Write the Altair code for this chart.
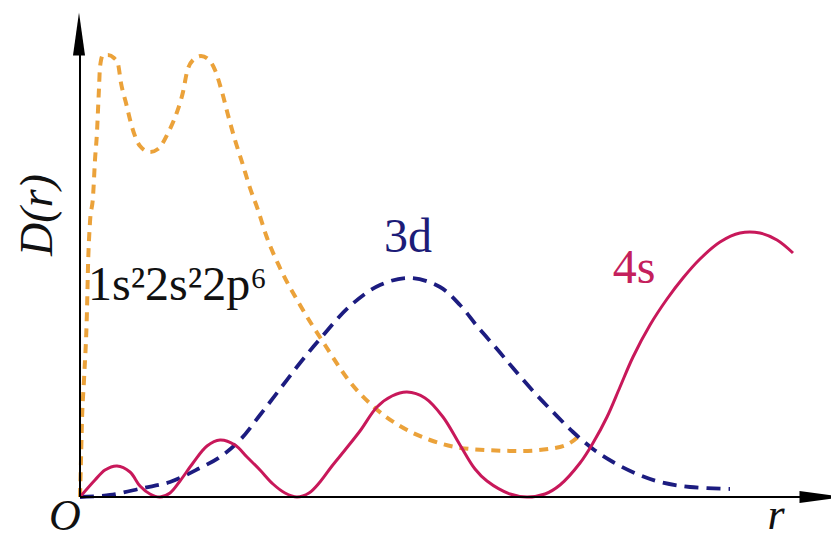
import altair as alt
import pandas as pd

# radial distribution D(r); r and D in arbitrary units
core_r = [0, 1, 2, 4, 7, 8, 10, 13, 15, 17, 18, 19, 20, 23, 28, 34, 38, 41, 46, 52, 60, 70, 78,
          88, 97, 103, 107, 113, 121, 129, 135, 142, 148, 155, 162, 170, 178, 186, 200, 220, 245,
          270, 295, 320, 350, 390, 440, 475, 490, 500]
core_d = [0, 37, 77, 117, 187, 230, 275, 300, 337, 365, 387, 409, 430, 442, 442, 439, 433, 414,
          394, 370, 351, 345, 348, 364, 385, 405, 425, 437, 441, 437, 427, 405, 382, 357, 335,
          309, 287, 262, 229, 192, 152, 115, 89, 71, 57, 48, 46, 49, 54, 62]

d3_r = [0, 30, 63, 90, 120, 140, 160, 180, 200, 220, 240, 270, 300, 330, 360, 380, 397, 417,
        433, 453, 473, 493, 513, 533, 557, 580, 610, 650]
d3_d = [0, 2, 9, 15, 29, 40, 57, 82, 108, 134, 158, 191, 212, 219, 210, 192, 171, 148, 129,
        106, 85, 65, 48, 35, 23, 15, 10, 8]

s4_r = [0, 15, 25, 37, 50, 60, 70, 80, 90, 100, 113, 127, 140, 155, 167, 180, 193, 205, 217,
        229, 240, 252, 265, 280, 297, 312, 327, 345, 363, 380, 395, 407, 430, 447, 465, 480,
        500, 513, 527, 540, 553, 570, 587, 603, 620, 640, 660, 680, 697, 713]
s4_d = [0, 17, 27, 31, 25, 11, 3, 0, 4, 16, 34, 51, 57, 52, 40, 27, 13, 4, 0, 4, 15, 31, 47,
        66, 90, 101, 105, 99, 80, 52, 28, 16, 3, 0, 3, 12, 34, 54, 80, 110, 140, 172, 198, 219,
        238, 255, 264, 264, 257, 244]

axis_r = [0, 0]
axis_d = [0, 0]
axis_r2 = [725, 0]
axis_d2 = [0, 450]

labels = ["1s²2s²2p⁶", "3d", "4s"]
label_r = [8, 328, 554]
label_d = [197, 245, 214]
label_color = ["#111111", "#1c1c78", "#c4205c"]

X_DOM = [0, 750]
Y_DOM = [0, 475]
SERIF = "Liberation Serif"


def xs(field="r"):
    return alt.X(f"{field}:Q", scale=alt.Scale(domain=X_DOM, nice=False, zero=False), axis=None)


def ys(field="D"):
    return alt.Y(f"{field}:Q", scale=alt.Scale(domain=Y_DOM, nice=False, zero=False), axis=None)


core = pd.DataFrame({"r": core_r, "D": core_d})
d3 = pd.DataFrame({"r": d3_r, "D": d3_d})
s4 = pd.DataFrame({"r": s4_r, "D": s4_d})
axes_df = pd.DataFrame({"r": axis_r, "D": axis_d, "r2": axis_r2, "D2": axis_d2})

core_line = alt.Chart(core).mark_line(
    color="#eba23a", strokeWidth=4, strokeDash=[9, 7], interpolate="monotone"
).encode(x=xs(), y=ys())

d3_line = alt.Chart(d3).mark_line(
    color="#1c1c80", strokeWidth=3.8, strokeDash=[14, 8], interpolate="catmull-rom"
).encode(x=xs(), y=ys())

s4_line = alt.Chart(s4).mark_line(
    color="#c8185a", strokeWidth=3, interpolate="catmull-rom"
).encode(x=xs(), y=ys())

axis_lines = alt.Chart(axes_df).mark_rule(color="black", strokeWidth=2).encode(
    x=xs(), y=ys(), x2="r2:Q", y2="D2:Q"
)

up_arrow = alt.Chart(pd.DataFrame({"r": [-1], "D": [463]})).mark_point(
    shape="M0,-1L0.28,1L-0.28,1Z", filled=True, color="black", opacity=1, size=1849
).encode(x=xs(), y=ys())

right_arrow = alt.Chart(pd.DataFrame({"r": [742], "D": [0]})).mark_point(
    shape="M1,0L-1,0.27L-1,-0.27Z", filled=True, color="black", opacity=1, size=2025
).encode(x=xs(), y=ys())

text_layers = []
for i, lab in enumerate(labels):
    df = pd.DataFrame({"label": [lab], "r": [label_r[i]], "D": [label_d[i]]})
    text_layers.append(alt.Chart(df).mark_text(
        align="left" if i == 0 else "center", baseline="alphabetic",
        font=SERIF, fontSize=48, color=label_color[i]
    ).encode(x=xs(), y=ys(), text="label:N"))

ital_df = pd.DataFrame({"label": ["O", "r"], "r": [-15, 696], "D": [-33, -32]})
ital = alt.Chart(ital_df).mark_text(
    align="center", baseline="alphabetic", font=SERIF, fontSize=44,
    fontStyle="italic", color="#111111"
).encode(x=xs(), y=ys(), text="label:N")

ylab = alt.Chart(pd.DataFrame({"label": ["D(r)"], "r": [-42], "D": [282]})).mark_text(
    align="center", baseline="middle", font=SERIF, fontSize=46,
    fontStyle="italic", angle=270, color="#111111"
).encode(x=xs(), y=ys(), text="label:N")

chart = alt.layer(
    core_line, d3_line, s4_line, axis_lines, up_arrow, right_arrow,
    *text_layers, ital, ylab
).properties(
    width=750, height=475,
    padding={"left": 72, "top": 14, "right": 1, "bottom": 44},
    autosize=alt.AutoSizeParams(type="none"),
    background="white",
).configure_view(stroke=None)

chart.save("out.html", embed_options={"renderer": "svg", "actions": False})
